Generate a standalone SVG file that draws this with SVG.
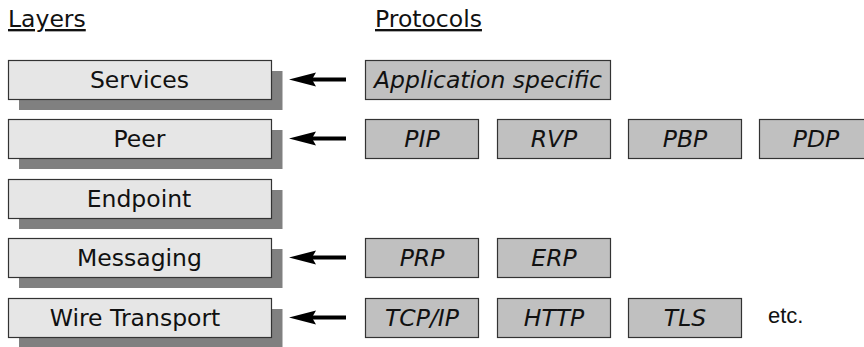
<svg xmlns="http://www.w3.org/2000/svg" width="864" height="347" viewBox="0 0 864 347">
<style>
text{font-family:"DejaVu Sans","Verdana",sans-serif;font-size:23.5px;fill:#111}
.hdr{text-decoration:underline}
.shadow{fill:#808080}
.layer{fill:#e6e6e6;stroke:#333;stroke-width:1.2}
.proto{fill:#c0c0c0;stroke:#333;stroke-width:1.2}
.pt{font-style:italic;text-anchor:middle}
.lt{text-anchor:middle}
.etc{font-family:"Liberation Sans",Arial,sans-serif;font-size:22px}
</style>
<defs>
<g id="arrow">
<line x1="312" y1="0" x2="346" y2="0" stroke="#000" stroke-width="4"/>
<polygon points="289,0 316,-7 312,0 316,7" fill="#000"/>
</g>
</defs>
<rect width="864" height="347" fill="#fff"/>
<text x="8" y="27" class="hdr">Layers</text>
<text x="375" y="27" class="hdr">Protocols</text>

<g id="layer-services">
<rect x="19" y="71" width="263.5" height="39" class="shadow"/>
<rect x="8.5" y="60.5" width="263" height="39" class="layer"/>
<text x="139.5" y="88" class="lt">Services</text>
</g>
<g id="layer-peer">
<rect x="19" y="130" width="263.5" height="39" class="shadow"/>
<rect x="8.5" y="119.5" width="263" height="39" class="layer"/>
<text x="139.5" y="147" class="lt">Peer</text>
</g>
<g id="layer-endpoint">
<rect x="19" y="190" width="263.5" height="39" class="shadow"/>
<rect x="8.5" y="179.5" width="263" height="39" class="layer"/>
<text x="139" y="207" class="lt">Endpoint</text>
</g>
<g id="layer-messaging">
<rect x="19" y="249" width="263.5" height="39" class="shadow"/>
<rect x="8.5" y="238.5" width="263" height="39" class="layer"/>
<text x="139.5" y="266" class="lt">Messaging</text>
</g>
<g id="layer-wire">
<rect x="19" y="309" width="263.5" height="39" class="shadow"/>
<rect x="8.5" y="298.5" width="263" height="39" class="layer"/>
<text x="135" y="326" class="lt">Wire Transport</text>
</g>

<g id="connectors">
<use href="#arrow" y="79.5"/>
<use href="#arrow" y="138.5"/>
<use href="#arrow" y="257.5"/>
<use href="#arrow" y="317.5"/>
</g>

<g id="proto-app">
<rect x="365.5" y="60.5" width="245" height="39" class="proto"/>
<text x="488" y="88" class="pt">Application specific</text>
</g>
<g id="proto-pip">
<rect x="365.5" y="119.5" width="113" height="39" class="proto"/>
<text x="422" y="147" class="pt">PIP</text>
</g>
<g id="proto-rvp">
<rect x="497.5" y="119.5" width="113" height="39" class="proto"/>
<text x="554" y="147" class="pt">RVP</text>
</g>
<g id="proto-pbp">
<rect x="628.5" y="119.5" width="113" height="39" class="proto"/>
<text x="685" y="147" class="pt">PBP</text>
</g>
<g id="proto-pdp">
<rect x="759.5" y="119.5" width="113" height="39" class="proto"/>
<text x="816" y="147" class="pt">PDP</text>
</g>
<g id="proto-prp">
<rect x="365.5" y="238.5" width="113" height="39" class="proto"/>
<text x="422" y="266" class="pt">PRP</text>
</g>
<g id="proto-erp">
<rect x="497.5" y="238.5" width="113" height="39" class="proto"/>
<text x="554" y="266" class="pt">ERP</text>
</g>
<g id="proto-tcpip">
<rect x="365.5" y="298.5" width="113" height="39" class="proto"/>
<text x="422" y="326" class="pt">TCP/IP</text>
</g>
<g id="proto-http">
<rect x="497.5" y="298.5" width="113" height="39" class="proto"/>
<text x="554" y="326" class="pt">HTTP</text>
</g>
<g id="proto-tls">
<rect x="628.5" y="298.5" width="113" height="39" class="proto"/>
<text x="685" y="326" class="pt">TLS</text>
</g>
<text x="768" y="323" class="etc">etc.</text>
</svg>
